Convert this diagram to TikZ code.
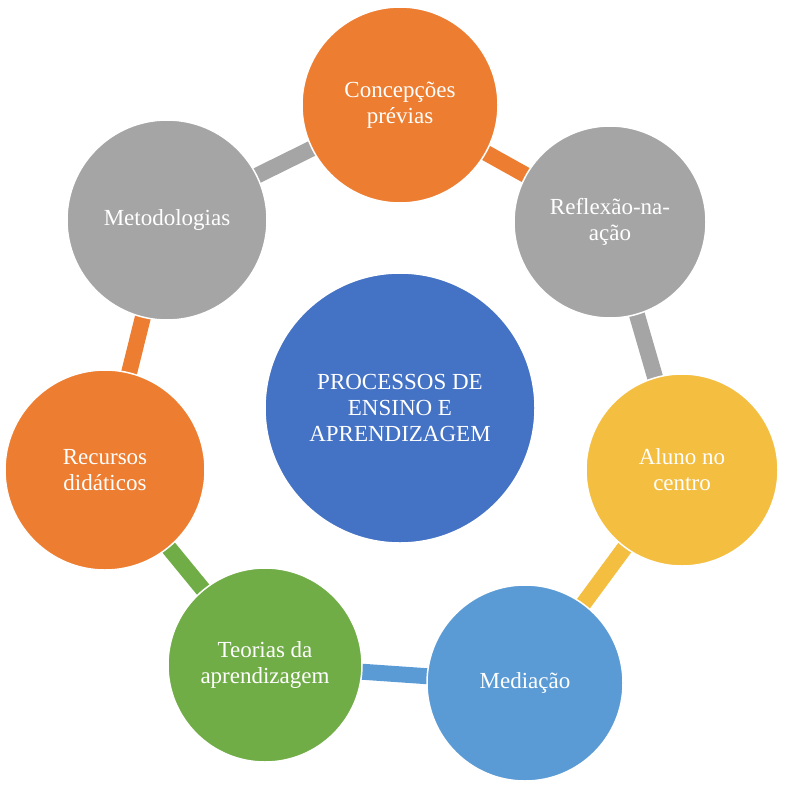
\documentclass[tikz,border=0pt]{standalone}
\usepackage{fontspec}
\setmainfont{Liberation Serif}
\definecolor{cor}{HTML}{ED7D31}
\definecolor{cgr}{HTML}{A5A5A5}
\definecolor{cye}{HTML}{F4BE41}
\definecolor{cbl}{HTML}{5B9BD5}
\definecolor{cgn}{HTML}{70AD47}
\definecolor{cdb}{HTML}{4472C4}
\begin{document}
\begin{tikzpicture}[x=1pt,y=-1pt,
  bub/.style={circle,draw=white,line width=1.5pt,text=white,align=center,font=\fontsize{23}{26}\selectfont,inner sep=0pt},
  con/.style={line width=16pt}]
\useasboundingbox (0,0) rectangle (800,784);
\coordinate (c1) at (400,105);
\coordinate (c2) at (610,222);
\coordinate (c3) at (682,470);
\coordinate (c4) at (525,683);
\coordinate (c5) at (265,665);
\coordinate (c6) at (105,470);
\coordinate (c7) at (167,220);
\draw[con,cor] (c1) -- (c2);
\draw[con,cgr] (c2) -- (c3);
\draw[con,cye] (c3) -- (c4);
\draw[con,cbl] (c4) -- (c5);
\draw[con,cgn] (c5) -- (c6);
\draw[con,cor] (c6) -- (c7);
\draw[con,cgr] (c7) -- (c1);
\node[bub,fill=cor,minimum size=196pt] (n1) at (c1) {Concepções\\prévias};
\node[bub,fill=cgr,minimum size=192pt] (n2) at (c2) {Reflexão-na-\\ação};
\node[bub,fill=cye,minimum size=192pt] (n3) at (c3) {Aluno no\\centro};
\node[bub,fill=cbl,minimum size=196pt] (n4) at (c4) {Mediação};
\node[bub,fill=cgn,minimum size=194pt] (n5) at (c5) {Teorias da\\aprendizagem};
\node[bub,fill=cor,minimum size=200pt] (n6) at (c6) {Recursos\\didáticos};
\node[bub,fill=cgr,minimum size=200pt] (n7) at (c7) {Metodologias};
\node[bub,fill=cdb,minimum size=270pt] (n0) at (400,408) {PROCESSOS DE\\ENSINO E\\APRENDIZAGEM};
\end{tikzpicture}
\end{document}
